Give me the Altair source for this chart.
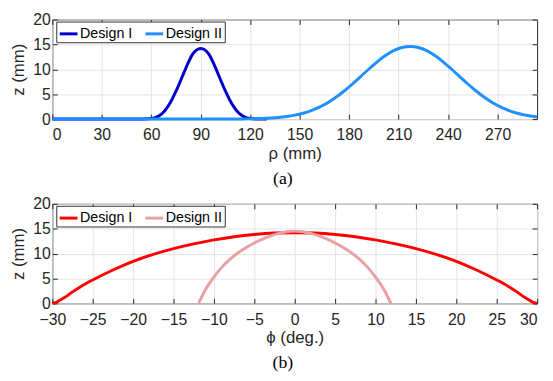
import altair as alt
import pandas as pd

# ---------------- data ----------------
# Panel (a): z vs rho
rho_I = [0, 40, 50, 55, 60, 62.5, 65, 67.5, 70, 72.5, 75, 77.5, 80, 82.5, 85, 87.5, 90,
         92.5, 95, 97.5, 100, 102.5, 105, 107.5, 110, 112.5, 115, 117.5, 120, 125, 130]
z_rho_I = [0, 0, 0, 0.02, 0.1, 0.3, 0.7, 1.4, 2.5, 3.9, 5.6, 7.5, 9.5, 11.4, 13.0, 13.9, 14.2,
           13.9, 13.0, 11.4, 9.5, 7.5, 5.6, 3.9, 2.5, 1.4, 0.7, 0.3, 0.1, 0.02, 0]

rho_II = [0, 60, 100, 107, 117, 127, 137, 142, 147, 152, 157, 162, 167, 172, 177, 182, 187,
          192, 197, 202, 207, 212, 217, 222, 227, 232, 237, 242, 247, 252, 257, 262, 267,
          272, 277, 282, 287, 292, 294]
z_rho_II = [0, 0, 0.005, 0.01, 0.04, 0.12, 0.33, 0.52, 0.79, 1.18, 1.72, 2.42, 3.30, 4.38, 5.64,
            7.05, 8.55, 10.07, 11.51, 12.77, 13.75, 14.38, 14.6, 14.38, 13.75, 12.77, 11.51,
            10.07, 8.55, 7.05, 5.64, 4.38, 3.30, 2.42, 1.72, 1.18, 0.79, 0.52, 0.43]

# Panel (b): z vs phi
phi_I = [-30, -29.6, -29.2, -28.5, -27.5, -26.5, -25, -22.5, -20, -17.5, -15, -12.5, -10,
         -7.5, -5, -2.5, 0, 2.5, 5, 7.5, 10, 12.5, 15, 17.5, 20, 22.5, 25, 26.5, 27.5,
         28.5, 29.2, 29.6, 30]
z_phi_I = [0, 0.15, 0.5, 1.15, 2.3, 3.35, 4.7, 6.7, 8.45, 9.85, 11.0, 11.95, 12.75, 13.4, 13.85,
           14.12, 14.2, 14.12, 13.85, 13.4, 12.75, 11.95, 11.0, 9.85, 8.45, 6.7, 4.7, 3.35, 2.3,
           1.15, 0.5, 0.15, 0]

phi_II = [-11.9, -11, -10, -9, -8, -7, -6, -5, -4, -3, -2, -1, 0,
          1, 2, 3, 4, 5, 6, 7, 8, 9, 10, 11, 11.9]
z_phi_II = [0, 2.88, 5.28, 7.28, 8.88, 10.18, 11.23, 12.13, 12.91, 13.56, 14.06, 14.39, 14.51,
            14.39, 14.06, 13.56, 12.91, 12.13, 11.23, 10.18, 8.88, 7.28, 5.28, 2.88, 0]

series = ["Design I", "Design II"]
colors_a = ["#0000CC", "#1E90FF"]
colors_b = ["#FF0000", "#E9A0A3"]

x_ticks_a = [0, 30, 60, 90, 120, 150, 180, 210, 240, 270]
x_ticks_b = [-30, -25, -20, -15, -10, -5, 0, 5, 10, 15, 20, 25, 30]
y_ticks = [0, 5, 10, 15, 20]

FONT = "Liberation Sans"
INK = "#262626"


def make_df(xs1, zs1, xs2, zs2):
    rows = [{"x": a, "z": b, "series": series[0], "o": i} for i, (a, b) in enumerate(zip(xs1, zs1))]
    rows += [{"x": a, "z": b, "series": series[1], "o": i} for i, (a, b) in enumerate(zip(xs2, zs2))]
    return pd.DataFrame(rows)


def panel(df, xdom, xticks, xtitle, colors, label, last_right=False):
    common_axis = dict(domain=False, tickColor=INK, tickWidth=1, tickSize=5, offset=-5,
                       minExtent=0, labelFont=FONT, labelFontSize=16, labelColor=INK,
                       titleFont=FONT, titleFontSize=17, titleFontWeight="normal", titleColor=INK,
                       gridColor="#E3E3E3", gridWidth=1)
    xs = alt.Scale(domain=xdom, nice=False, zero=False)
    ys = alt.Scale(domain=[0, 20], nice=False)
    x_extra = {}
    if last_right:
        x_extra["labelAlign"] = {"condition": {"test": f"datum.value >= {xdom[1]}", "value": "right"},
                                 "value": "center"}
    lines = alt.Chart(df).mark_line(strokeWidth=3, interpolate="monotone").encode(
        x=alt.X("x:Q", scale=xs, axis=alt.Axis(values=xticks, title=xtitle, orient="bottom",
                                               grid=True, labelPadding=8, titlePadding=3,
                                               **x_extra, **common_axis)),
        y=alt.Y("z:Q", scale=ys, axis=alt.Axis(values=y_ticks, title="z (mm)", orient="left",
                                               grid=True, labelPadding=2, titlePadding=5,
                                               **common_axis)),
        color=alt.Color("series:N", scale=alt.Scale(domain=series, range=colors),
                        legend=alt.Legend(orient="none", legendX=4, legendY=2,
                                          direction="horizontal", title=None,
                                          symbolType="stroke", symbolSize=324,
                                          symbolStrokeWidth=3, labelFont=FONT,
                                          labelFontSize=14.5, labelColor="black",
                                          strokeColor="#333333", fillColor="white",
                                          padding=2, columnPadding=6, labelOffset=1)),
        order="o:Q",
    )
    frame_ticks = alt.Chart(df).mark_line(opacity=0).encode(
        x=alt.X("x:Q", scale=xs, axis=alt.Axis(values=xticks, title=None, orient="top",
                                               labels=False, grid=False, **common_axis)),
        y=alt.Y("z:Q", scale=ys, axis=alt.Axis(values=y_ticks, title=None, orient="right",
                                               labels=False, grid=False, **common_axis)),
    )
    return alt.layer(lines, frame_ticks).properties(
        width=492, height=101,
        title=alt.TitleParams(label, orient="bottom", font="Liberation Serif", fontSize=18,
                              fontWeight="normal", color="black", anchor="middle", offset=9, dx=-12),
    )


top = panel(make_df(rho_I, z_rho_I, rho_II, z_rho_II), [0, 294], x_ticks_a, "ρ (mm)", colors_a, "(a)")
bottom = panel(make_df(phi_I, z_phi_I, phi_II, z_phi_II), [-30, 30], x_ticks_b, "ϕ (deg.)", colors_b, "(b)",
               last_right=True)

chart = alt.vconcat(top, bottom, spacing=6).resolve_scale(color="independent").configure_view(
    stroke=INK, strokeWidth=1
).properties(padding={"left": 1, "top": 0, "right": 1, "bottom": 0}, background="white")

chart.save("out.html", embed_options={"renderer": "svg", "actions": False})
